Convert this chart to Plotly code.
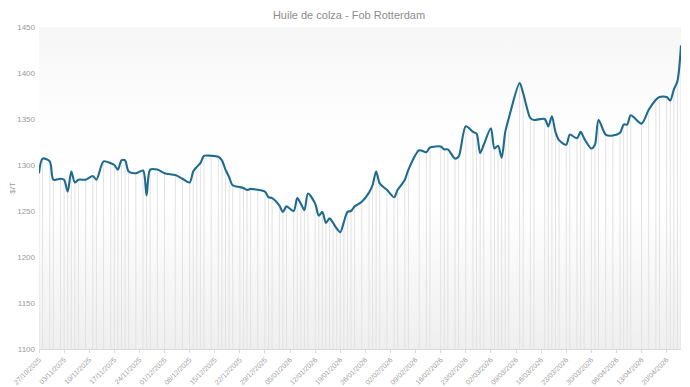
import plotly.graph_objects as go

dates = [
    "2025-10-27", "2025-10-28", "2025-10-30", "2025-10-31", "2025-11-02", "2025-11-03",
    "2025-11-04", "2025-11-05", "2025-11-06", "2025-11-07", "2025-11-09", "2025-11-11",
    "2025-11-12", "2025-11-14", "2025-11-16", "2025-11-17", "2025-11-18", "2025-11-19",
    "2025-11-20", "2025-11-21", "2025-11-23", "2025-11-25", "2025-11-26", "2025-11-27",
    "2025-11-29", "2025-12-01", "2025-12-04", "2025-12-06", "2025-12-08", "2025-12-09",
    "2025-12-10", "2025-12-11", "2025-12-12", "2025-12-14", "2025-12-16", "2025-12-17",
    "2025-12-18", "2025-12-19", "2025-12-20", "2025-12-22", "2025-12-23", "2025-12-24",
    "2025-12-25", "2025-12-27", "2025-12-29", "2025-12-30", "2025-12-31", "2026-01-02",
    "2026-01-03", "2026-01-04", "2026-01-06", "2026-01-07", "2026-01-08", "2026-01-09",
    "2026-01-10", "2026-01-12", "2026-01-13", "2026-01-14", "2026-01-15", "2026-01-16",
    "2026-01-17", "2026-01-18", "2026-01-19", "2026-01-20", "2026-01-21", "2026-01-22",
    "2026-01-23", "2026-01-25", "2026-01-27", "2026-01-28", "2026-01-29", "2026-01-30",
    "2026-02-01", "2026-02-03", "2026-02-04", "2026-02-06", "2026-02-07", "2026-02-10",
    "2026-02-12", "2026-02-13", "2026-02-16", "2026-02-17", "2026-02-18", "2026-02-20",
    "2026-02-21", "2026-02-23", "2026-02-25", "2026-02-26", "2026-02-27", "2026-02-28",
    "2026-03-02", "2026-03-03", "2026-03-04", "2026-03-05", "2026-03-06", "2026-03-07",
    "2026-03-10", "2026-03-11", "2026-03-13", "2026-03-14", "2026-03-17", "2026-03-18",
    "2026-03-19", "2026-03-20", "2026-03-21", "2026-03-23", "2026-03-24", "2026-03-26",
    "2026-03-27", "2026-03-28", "2026-03-30", "2026-03-31", "2026-04-01", "2026-04-03",
    "2026-04-05", "2026-04-07", "2026-04-08", "2026-04-09", "2026-04-10", "2026-04-13",
    "2026-04-15", "2026-04-17", "2026-04-18", "2026-04-20", "2026-04-21", "2026-04-22",
    "2026-04-23", "2026-04-24",
]

prices = [
    1291, 1307, 1304, 1284, 1285, 1284,
    1271, 1293, 1281, 1284, 1284, 1288,
    1284, 1304, 1302, 1300, 1295, 1305,
    1305, 1293, 1291, 1294, 1267, 1295,
    1295, 1291, 1289, 1285, 1281, 1293,
    1298, 1302, 1310, 1310, 1309, 1305,
    1295, 1287, 1278, 1276, 1275, 1273,
    1274, 1273, 1271, 1265, 1264, 1256,
    1249, 1255, 1250, 1264, 1258, 1251,
    1269, 1258, 1245, 1249, 1237, 1242,
    1237, 1231, 1227, 1238, 1249, 1250,
    1255, 1260, 1270, 1278, 1293, 1280,
    1273, 1265, 1273, 1284, 1295, 1316,
    1314, 1319, 1320, 1317, 1317, 1307,
    1309, 1342, 1336, 1334, 1313, 1322,
    1340, 1318, 1321, 1308, 1336, 1351,
    1389, 1378, 1351, 1349, 1350, 1342,
    1353, 1336, 1327, 1322, 1333, 1329,
    1336, 1329, 1318, 1322, 1349, 1333,
    1332, 1335, 1344, 1344, 1354, 1345,
    1360, 1371, 1374, 1374, 1370, 1382,
    1391, 1430,
]

title_text = "Huile de colza - Fob Rotterdam"
y_title = "$/T"
x_start, x_end = "2025-10-27", "2026-04-24"
y_min, y_max = 1100, 1450
y_ticks = [1100, 1150, 1200, 1250, 1300, 1350, 1400, 1450]

FONT = "Liberation Sans Narrow, Arial Narrow, Liberation Sans, sans-serif"
DAY_MS = 86400000

fig = go.Figure()

# background gradient band
fig.add_trace(go.Scatter(
    x=[x_start, x_end], y=[y_max, y_max], mode="lines",
    line=dict(width=0, color="rgba(0,0,0,0)"),
    fill="tozeroy",
    fillgradient=dict(type="vertical", start=y_min, stop=y_max,
                      colorscale=[[0, "#efefef"], [0.45, "#ffffff"],
                                  [0.7, "#fefefe"], [1, "#f6f6f6"]]),
    hoverinfo="skip", showlegend=False,
))

# vertical stripes at each data point, from the axis floor up to the value
sx, sy = [], []
for d, p in zip(dates, prices):
    sx += [d, d, None]
    sy += [y_min, p, None]
fig.add_trace(go.Scatter(
    x=sx, y=sy, mode="lines",
    line=dict(color="#e2e2e2", width=1),
    hoverinfo="skip", showlegend=False,
))

fig.add_trace(go.Scatter(
    x=dates, y=prices, mode="lines",
    line=dict(color="#1f6b8f", width=2.1, shape="spline", smoothing=0.8),
    showlegend=False,
))

fig.update_layout(
    width=682, height=379,
    margin=dict(l=31, r=9, t=19, b=38),
    paper_bgcolor="white", plot_bgcolor="white",
    title=dict(text=title_text, x=0.5, xanchor="center", y=0.992, yanchor="top",
               pad=dict(t=0, b=0),
               font=dict(family=FONT, size=11, color="#8c8c8c")),
    font=dict(family=FONT, size=8, color="#9a9a9a"),
)

fig.update_xaxes(
    type="date", range=[x_start, x_end],
    tick0=x_start, dtick=7 * DAY_MS, tickformat="%d/%m/%Y",
    tickangle=-45, tickfont=dict(size=7, color="#a0a0a0"),
    showgrid=False, showline=True, linecolor="#d9d9d9", linewidth=1,
    ticks="outside", ticklen=3, tickcolor="#d9d9d9",
    zeroline=False, automargin=False,
)

fig.update_yaxes(
    range=[y_min, y_max], tickvals=y_ticks,
    tickfont=dict(size=8, color="#9a9a9a"),
    showgrid=False, zeroline=False, showline=False,
    ticks="", ticklabelstandoff=3,
    title=dict(text=y_title, font=dict(size=8, color="#9a9a9a"), standoff=8),
    automargin=False,
)

fig.write_html("out.html")
